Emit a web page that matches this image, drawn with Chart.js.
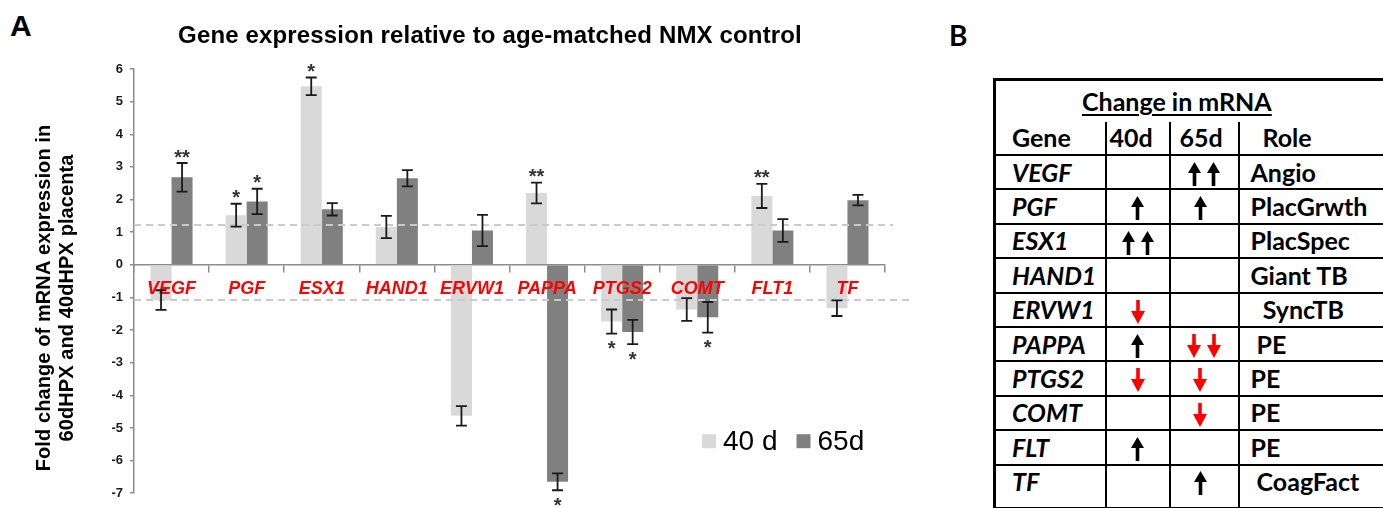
<!DOCTYPE html>
<html>
<head>
<meta charset="utf-8">
<script src="https://cdn.jsdelivr.net/npm/chart.js@4.4.0/dist/chart.umd.min.js"></script>
<style>
html, body { margin: 0; padding: 0; background: #fff; width: 1383px; height: 508px; overflow: hidden; position: relative; }
#wrap { position: absolute; left: 0; top: 0; width: 930px; height: 508px; }
.panel { position: absolute; font-weight: bold; color: #000; }
#panelA { left: 10px; top: 9px; font: bold 30px "Liberation Sans", Arial, sans-serif; }
#panelB { left: 949px; top: 18px; font: bold 28px Lato, "Open Sans", sans-serif; }
#tbl { position: absolute; left: 993px; top: 78px; width: 420px; border-collapse: collapse; table-layout: fixed;
  font: bold 25px Lato, "Open Sans", sans-serif; color: #000; border: 3px solid #000; }
#tbl td { border: 2px solid #000; padding: 0; white-space: pre; vertical-align: middle; line-height: 1; }
#tbl tr.row { height: 34.4px; }
#tbl tr.last { height: 44px; }
#tbl tr.last td { padding-bottom: 10px; }
#tbl td.cap { border-bottom: none; padding-left: 86px; height: 41px; }
#tbl td.cap span { text-decoration: underline; text-decoration-thickness: 2px; text-underline-offset: 3px; }
#tbl tr.head td { border-top: none; height: 30px; padding-bottom: 2px; }
#tbl td.gene { font-style: italic; padding-left: 16px; }
#tbl td.arr { text-align: center; }
#tbl td.arr65 { text-align: center; padding-right: 8px; }
#tbl td.role { padding-left: 11px; }
svg.a { display: inline-block; vertical-align: middle; margin: 0 3px; }
</style>
</head>
<body>
<div id="panelA" class="panel">A</div>
<div id="panelB" class="panel">B</div>
<div id="wrap"><canvas id="fold-chart"></canvas></div>
<table id="tbl">
  <colgroup><col style="width:111px"><col style="width:64px"><col style="width:69px"><col style="width:176px"></colgroup>
  <tbody id="tbody"></tbody>
</table>
<script>
// panel A data
const genes = ["VEGF", "PGF", "ESX1", "HAND1", "ERVW1", "PAPPA", "PTGS2", "COMT", "FLT1", "TF"];
const fold40 = [-1.08, 1.52, 5.47, 1.16, -4.63, 2.2, -1.74, -1.37, 2.11, -1.33];
const err40 = [0.3, 0.35, 0.27, 0.34, 0.3, 0.32, 0.37, 0.35, 0.37, 0.24];
const fold65 = [2.68, 1.94, 1.7, 2.65, 1.05, -6.65, -2.06, -1.61, 1.05, 1.98];
const err65 = [0.44, 0.39, 0.19, 0.25, 0.48, 0.26, 0.37, 0.47, 0.35, 0.16];
const stars40 = ["", "*", "*", "", "", "**", "*", "", "**", ""];
const stars65 = ["**", "*", "", "", "", "*", "*", "*", "", ""];
const cutoffs = [1.21, -1.09];
const yMin = -7, yMax = 6;

// panel B data
const tableGenes = ["VEGF", "PGF", "ESX1", "HAND1", "ERVW1", "PAPPA", "PTGS2", "COMT", "FLT", "TF"];
const change40 = [0, 1, 2, 0, -1, 1, -1, 0, 1, 0];
const change65 = [2, 1, 0, 0, 0, -2, -1, -1, 0, 1];
const roles = ["Angio", "PlacGrwth", "PlacSpec", "Giant TB", "  SyncTB", " PE", "PE", "PE", "PE", " CoagFact"];

const FONT = '"Liberation Sans", Arial, sans-serif';

const extras = {
	id: "extras",
	afterDatasetsDraw(chart) {
		const { ctx, chartArea: area, scales: { y } } = chart;
		// dashed cut-off lines
		ctx.save();
		ctx.strokeStyle = "#cacaca";
		ctx.lineWidth = 2;
		ctx.setLineDash([7, 5]);
		cutoffs.forEach((v, i) => {
			const py = Math.round(y.getPixelForValue(v));
			ctx.beginPath();
			ctx.moveTo(area.left, py);
			ctx.lineTo(area.right + (i ? 25 : 8), py);
			ctx.stroke();
		});
		ctx.restore();
	},
	afterDraw(chart) {
		const { ctx, chartArea: area, scales: { y } } = chart;
		ctx.save();
		// error bars and significance stars (on top of the gene labels)
		ctx.strokeStyle = "#1a1a1a";
		ctx.lineWidth = 1.8;
		ctx.fillStyle = "#333";
		ctx.font = "bold 20px " + FONT;
		ctx.textAlign = "center";
		ctx.textBaseline = "alphabetic";
		chart.data.datasets.forEach((ds, di) => {
			chart.getDatasetMeta(di).data.forEach((bar, i) => {
				const v = ds.data[i], e = ds.errors[i];
				const top = y.getPixelForValue(v + e), bot = y.getPixelForValue(v - e);
				const x = bar.x;
				ctx.beginPath();
				ctx.moveTo(x, top); ctx.lineTo(x, bot);
				ctx.moveTo(x - 5.5, top); ctx.lineTo(x + 5.5, top);
				ctx.moveTo(x - 5.5, bot); ctx.lineTo(x + 5.5, bot);
				ctx.stroke();
				const s = ds.stars[i];
				if (s) {
					if (v > 0) ctx.fillText(s, x, top - 11 + 11.6);
					else ctx.fillText(s, x, bot + 10 + 11.6);
				}
			});
		});
		ctx.fillStyle = "#000";
		// title
		ctx.font = "bold 24px " + FONT;
		ctx.letterSpacing = "0.15px";
		ctx.fillText("Gene expression relative to age-matched NMX control", 490, 43);
		// y axis title
		ctx.font = "bold 20px " + FONT;
		ctx.letterSpacing = "0.1px";
		ctx.textBaseline = "middle";
		const yt = ["Fold change of mRNA expression in", "60dHPX and 40dHPX placenta"];
		[44, 67].forEach((cx, i) => {
			ctx.save();
			ctx.translate(cx, 298);
			ctx.rotate(-Math.PI / 2);
			ctx.fillText(yt[i], 0, 0);
			ctx.restore();
		});
		// legend inside plot, bottom right
		ctx.font = "28px " + FONT;
		ctx.letterSpacing = "0px";
		ctx.textAlign = "left";
		let lx = area.right - 183;
		const ly = area.bottom - 52;
		chart.data.datasets.forEach((ds) => {
			ctx.fillStyle = ds.backgroundColor;
			ctx.fillRect(lx, ly - 7, 14, 14);
			ctx.fillStyle = "#000";
			ctx.fillText(ds.label, lx + 21, ly + 1);
			lx += 21 + ctx.measureText(ds.label).width + 19;
		});
		ctx.restore();
	},
};

const config = {
	type: "bar",
	data: {
		labels: genes,
		datasets: [
			{ label: "40 d", data: fold40, errors: err40, stars: stars40, backgroundColor: "#d9d9d9" },
			{ label: "65d", data: fold65, errors: err65, stars: stars65, backgroundColor: "#808080" },
		],
	},
	options: {
		responsive: true,
		maintainAspectRatio: false,
		animation: false,
		categoryPercentage: 0.56,
		barPercentage: 1,
		layout: { padding: { left: 0, top: 69, right: 45, bottom: 8 } },
		plugins: {
			legend: { display: false },
			title: { display: false },
			tooltip: { enabled: false },
		},
		scales: {
			x: {
				position: { y: 0 },
				grid: { offset: true, drawOnChartArea: false, tickLength: 7, color: "#8c8c8c", lineWidth: 1.5 },
				border: { color: "#8c8c8c", width: 1.5 },
				ticks: { z: 1, color: "#ff0000", padding: 6, font: { family: FONT, size: 18, weight: "bold", style: "italic" } },
			},
			y: {
				min: yMin,
				max: yMax,
				afterFit(scale) { scale.width = 134; },
				grid: { drawOnChartArea: false, tickLength: 4, color: "#8c8c8c", lineWidth: 1.5 },
				border: { color: "#8c8c8c", width: 1.5 },
				ticks: { stepSize: 1, padding: 7, color: "#1a1a1a", font: { family: FONT, size: 13, weight: "bold" } },
			},
		},
	},
	plugins: [extras],
};

new Chart(document.getElementById("fold-chart"), config);

// panel B table
function arrows(n) {
	if (!n) return "";
	const up = n > 0;
	const col = up ? "#000" : "#ff0000";
	const one = up
		? `<svg class="a" width="13" height="24" viewBox="0 0 13 24"><polygon points="6.5,0 13,11 0,11" fill="${col}"/><rect x="4.7" y="10" width="3.6" height="14" fill="${col}"/></svg>`
		: `<svg class="a" width="14" height="24" viewBox="0 0 14 24"><rect x="5.2" y="0" width="3.6" height="12" fill="${col}"/><polygon points="0,11 14,11 7,24" fill="${col}"/></svg>`;
	return one.repeat(Math.abs(n));
}

const rowsHtml = [
	`<tr><td class="cap" colspan="4"><span>Change in mRNA</span></td></tr>`,
	`<tr class="head"><td style="padding-left:16px">Gene</td><td style="padding-left:3px">40d</td><td style="padding-left:9px">65d</td><td style="padding-left:23px">Role</td></tr>`,
];
tableGenes.forEach((g, i) => {
	const cls = i === tableGenes.length - 1 ? "last" : "row";
	const c65 = Math.abs(change65[i]) === 1 ? "arr65" : "arr";
	rowsHtml.push(`<tr class="${cls}"><td class="gene">${g}</td><td class="arr">${arrows(change40[i])}</td><td class="${c65}">${arrows(change65[i])}</td><td class="role">${roles[i]}</td></tr>`);
});
document.getElementById("tbody").innerHTML = rowsHtml.join("");
</script>
</body>
</html>
